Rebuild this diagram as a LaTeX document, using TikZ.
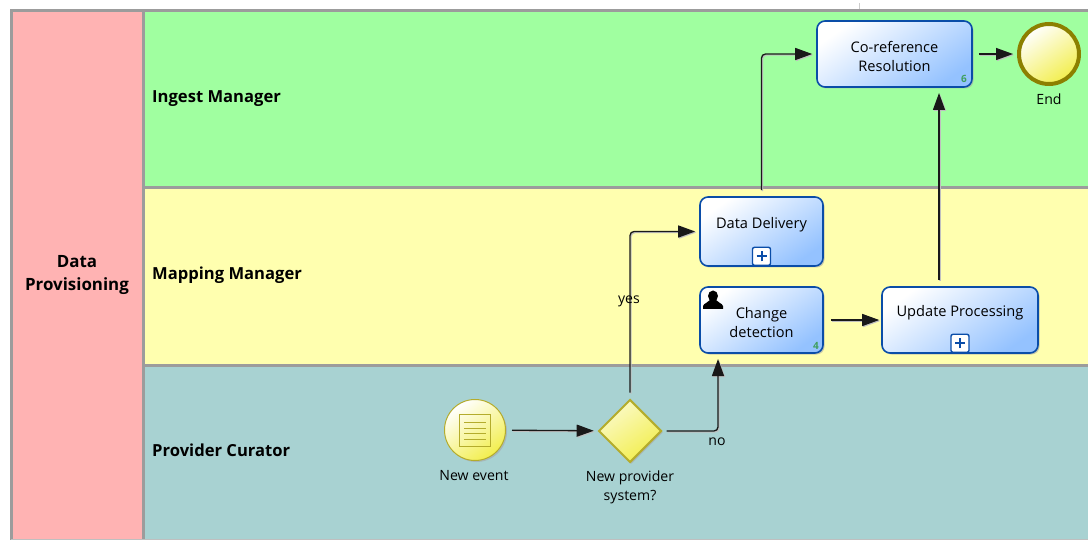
\documentclass[tikz,border=0pt]{standalone}
\usepackage{fontspec}
\setmainfont{Open Sans}
\usetikzlibrary{shapes.geometric,arrows.meta,shadows}
\definecolor{poolred}{HTML}{FFB3B3}
\definecolor{lanegreen}{HTML}{A0FFA0}
\definecolor{laneyellow}{HTML}{FFFFAF}
\definecolor{laneteal}{HTML}{A8D2D2}
\definecolor{lanegray}{HTML}{9C9C9C}
\definecolor{taskblue}{HTML}{0A4DA8}
\definecolor{taskfill}{HTML}{94C2FF}
\definecolor{eventline}{HTML}{B4AC2C}
\definecolor{endline}{HTML}{8C8000}
\definecolor{eventfill}{HTML}{F2EE4C}
\definecolor{countgreen}{HTML}{3F9F5F}
\tikzset{
	softshadow/.style={drop shadow={shadow xshift=1.5pt,shadow yshift=-1.5pt,fill=black!35,opacity=.6}},
	task/.style={draw=taskblue, line width=1.6pt, rounded corners=8pt, left color=white, right color=taskfill, shading angle=35, softshadow, align=center, inner sep=0pt, font=\fontsize{14.6}{18.5}\selectfont},
	subplus/.style={draw=taskblue, line width=1.4pt, fill=white, rounded corners=2pt, minimum width=18pt, minimum height=18pt, inner sep=0pt},
	eventnode/.style={circle, left color=white, right color=eventfill, shading angle=35, inner sep=0pt, minimum size=61pt},
	caption/.style={align=center, inner sep=0pt, font=\fontsize{14.1}{19}\selectfont},
	lanelabel/.style={anchor=base west, inner sep=0pt, font=\fontsize{16.6}{20}\selectfont\bfseries},
	flow/.style={draw=black!90, line width=1.3pt, rounded corners=4pt, -{Triangle[length=17pt,width=12pt]}, preaction={draw=black!25, line width=1.3pt, rounded corners=4pt, transform canvas={shift={(1,1)}}}},
	count/.style={inner sep=0pt, text=countgreen, font=\fontsize{10}{10}\selectfont\bfseries}
}
\begin{document}
\begin{tikzpicture}[x=1pt,y=-1pt]
	\useasboundingbox (0,0) rectangle (1088,540);
	\fill[white] (0,0) rectangle (1088,540);
	\draw[black!20] (859,3)--(859,10);
	\fill[poolred] (11,10) rectangle (144,540);
	\foreach \ya/\yb/\c in {10/188/lanegreen,188/365/laneyellow,365/540/laneteal}
		\fill[\c] (144,\ya) rectangle (1088,\yb);
	\draw[lanegray, line width=3pt] (1088,10.5)--(11.5,10.5)--(11.5,540);
	\draw[lanegray, line width=3pt] (143.5,10)--(143.5,540);
	\foreach \yb in {188,365}
		\draw[lanegray, line width=3pt] (143.5,\yb)--(1088,\yb);
	\draw[black!25] (11,539.5)--(1088,539.5);
	\node[align=center, inner sep=0pt, font=\fontsize{16.9}{23}\selectfont\bfseries] (pool) at (77,275) {Data\\Provisioning};
	\node[lanelabel] (ingest) at (152,103) {Ingest Manager};
	\node[lanelabel] (mapping) at (152,280) {Mapping Manager};
	\node[lanelabel] (provider) at (152,456) {Provider Curator};

	\node[eventnode, draw=eventline, line width=1pt, softshadow] (event) at (475,430) {};
	\draw[eventline, line width=1.2pt] (459.5,414.5) rectangle (490.5,446.5);
	\foreach \yb in {422,428,433.5,439}
		\draw[eventline, line width=1pt] (464,\yb)--(486,\yb);
	\node[diamond, draw=eventline, line width=2pt, left color=white!70!eventfill, right color=eventfill, shading angle=35, softshadow, inner sep=0pt, minimum size=63pt] (gateway) at (630,431) {};
	\node[task, minimum width=155pt, minimum height=66pt] (coref) at (894.5,54) {\rule{0pt}{16pt}Co-reference\\Resolution};
	\node[task, minimum width=123pt, minimum height=69pt] (delivery) at (761.5,231.5) {Data Delivery\\[-1pt]\mbox{}};
	\node[task, minimum width=123pt, minimum height=66pt] (change) at (761.5,320) {\rule{0pt}{16pt}Change\\detection};
	\node[task, minimum width=156pt, minimum height=66pt] (update) at (960,320) {Update Processing\\[0pt]\mbox{}};
	\node[eventnode, draw=endline, line width=4pt, minimum size=60pt] (end) at (1049,54) {};

	\node[subplus, anchor=south] (plusa) at (761.5,266) {};
	\node[subplus, anchor=south] (plusb) at (960,353) {};
	\foreach \p in {plusa,plusb}
		\draw[taskblue, line width=2pt] ([xshift=-5pt]\p.center)--([xshift=5pt]\p.center) ([yshift=-5pt]\p.center)--([yshift=5pt]\p.center);
	\fill[black] (713,296) ellipse (5pt and 5.5pt);
	\fill[black] (703,309)--(703,306) .. controls (704,303) and (708,303) .. (710,300)--(716,300) .. controls (718,303) and (722,303) .. (723,306)--(723,309)--cycle;
	\node[count] (countc) at (964,79) {6};
	\node[count] (countd) at (816,346) {4};

	\node[caption] (eventtext) at (474,476) {New event};
	\node[caption] (gatewaytext) at (630,487) {New provider\\system?};
	\node[caption] (endtext) at (1049,99) {End};
	\coordinate (changein) at (718,353);
	\coordinate (updateout) at (939,287);
	\coordinate (corefin) at (939,87);

	\draw[flow, shorten <=6pt, shorten >=4pt] (event)--(gateway);
	\draw[flow, shorten <=6pt, shorten >=4pt] (gateway.north) |- (delivery.west);
	\draw[flow, shorten <=4pt, shorten >=6pt] (gateway.east) -| (changein);
	\draw[flow, shorten <=6pt, shorten >=4pt] (delivery.north) |- (coref.west);
	\draw[flow, shorten <=7pt, shorten >=2pt] (change)--(update);
	\draw[flow, shorten <=7pt, shorten >=6pt] (updateout)--(corefin);
	\draw[flow, shorten <=6pt, shorten >=4pt] (coref)--(end);
	\node[caption] (yes) at (629,301) {yes};
	\node[caption] (no) at (717,442) {no};
\end{tikzpicture}
\end{document}
